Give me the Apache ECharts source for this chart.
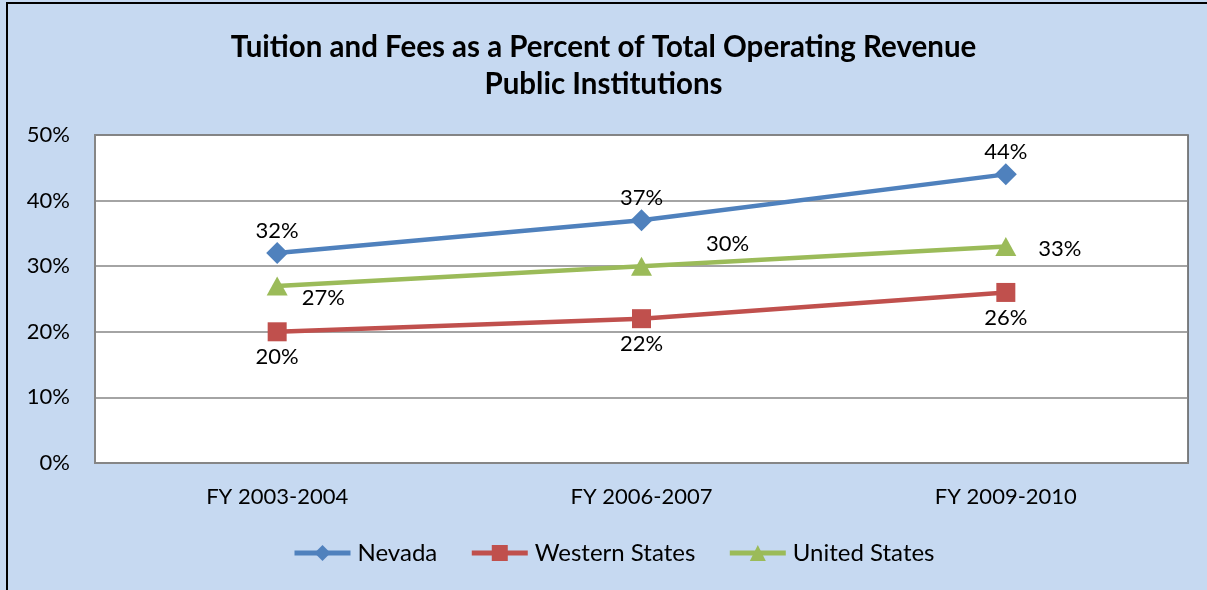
<!DOCTYPE html>
<html>
<head>
    <meta charset="utf-8">
    <title>Tuition and Fees</title>
    <script type="text/javascript" src="https://cdn.jsdelivr.net/npm/echarts@6/dist/echarts.min.js"></script>
    <style>
        html, body { margin: 0; background: #C6D9F1; overflow: hidden; }
        #main { width: 1207px; height: 590px; }
    </style>
</head>
<body>
<div id="main"></div>
<script type="text/javascript">
    // 数据
    var categories = ['FY 2003-2004', 'FY 2006-2007', 'FY 2009-2010'];
    var nevada = [32, 37, 44];
    var western = [20, 22, 26];
    var unitedStates = [27, 30, 33];
    var yTicks = [0, 10, 20, 30, 40, 50];

    var font = 'Lato, "Open Sans", sans-serif';

    var myChart = echarts.init(document.getElementById('main'));

    // 美国数据标签位置各不相同
    var usLabels = [
        { position: 'right', offset: [0, 12] },
        { position: 'right', offset: [40, -22] },
        { position: 'right', offset: [8, 2] }
    ];

    var option = {
        animation: false,
        backgroundColor: 'transparent',
        textStyle: { fontFamily: font },
        // 外框（左、上）
        graphic: [{
            type: 'polyline',
            shape: { points: [[7, 600], [7, 3], [1220, 3]] },
            style: { stroke: '#000', lineWidth: 2, fill: null },
            silent: true
        }],
        title: {
            text: 'Tuition and Fees as a Percent of Total Operating Revenue\nPublic Institutions',
            left: 'center',
            top: 24,
            textStyle: { fontFamily: font, fontSize: 29.5, fontWeight: 'bold', color: '#000', lineHeight: 37 }
        },
        legend: {
            bottom: 20,
            left: 287,
            itemWidth: 56,
            itemHeight: 20,
            itemGap: 32,
            lineStyle: { width: 5 },
            textStyle: { fontFamily: font, fontSize: 24, color: '#000', padding: [0, 0, 0, 2] },
            data: ['Nevada', 'Western States', 'United States']
        },
        grid: {
            left: 95, right: 19, top: 135, bottom: 127,
            show: true, backgroundColor: '#fff', borderColor: '#595959', borderWidth: 1.5
        },
        xAxis: {
            type: 'category',
            data: categories,
            axisLine: { lineStyle: { color: '#868686', width: 2 } },
            axisTick: { show: false },
            axisLabel: { fontFamily: font, fontSize: 22, color: '#000', margin: 23 }
        },
        yAxis: {
            type: 'value',
            min: yTicks[0],
            max: yTicks[yTicks.length - 1],
            interval: 10,
            axisLine: { show: true, lineStyle: { color: '#868686', width: 2 } },
            axisTick: { show: false },
            splitLine: { lineStyle: { color: '#868686', width: 1.5 } },
            axisLabel: { fontFamily: font, fontSize: 22, color: '#000', margin: 25,
                formatter: function (v) { return v + '%'; } }
        },
        series: [{
            name: 'Nevada',
            type: 'line',
            data: nevada,
            symbol: 'diamond',
            symbolSize: 22,
            itemStyle: { color: '#4F81BD' },
            lineStyle: { width: 4.5, color: '#4F81BD' },
            label: { show: true, position: 'top', distance: 0, fontSize: 22, color: '#000',
                formatter: '{c}%' }
        }, {
            name: 'Western States',
            type: 'line',
            data: western,
            symbol: 'rect',
            symbolSize: 19,
            itemStyle: { color: '#C0504D' },
            lineStyle: { width: 4.5, color: '#C0504D' },
            label: { show: true, position: 'bottom', distance: 5, fontSize: 22, color: '#000',
                formatter: '{c}%' }
        }, {
            name: 'United States',
            type: 'line',
            data: unitedStates.map(function (v, i) {
                return { value: v, label: usLabels[i] };
            }),
            symbol: 'triangle',
            symbolSize: [21, 19],
            itemStyle: { color: '#9BBB59' },
            lineStyle: { width: 4.5, color: '#9BBB59' },
            label: { show: true, distance: 14, fontSize: 22, color: '#000',
                formatter: '{c}%' }
        }]
    };

    myChart.setOption(option);
</script>
</body>
</html>
